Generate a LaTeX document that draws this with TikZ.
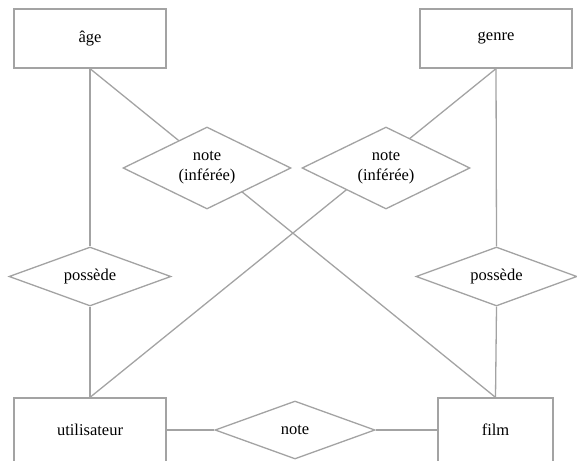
\documentclass[tikz,border=0pt]{standalone}
\usepackage{fontspec}
\setmainfont{Liberation Serif}
\usetikzlibrary{shapes.geometric}
\definecolor{linegray}{RGB}{163,163,163}
\tikzset{
  ent/.style={draw=linegray, line width=1.3pt, fill=white, rectangle, inner sep=0pt},
  rel/.style={draw=linegray, line width=1.3pt, fill=white, diamond, inner sep=0pt, aspect=2},
  conn/.style={draw=linegray, line width=1.3pt},
}
\begin{document}
\begin{tikzpicture}[x=1pt,y=-1pt, font=\fontsize{16.5}{20}\selectfont]
\useasboundingbox (0,0) rectangle (577,460);
\begin{scope}
\clip (0,0) rectangle (577,460);
% entities
\node[ent, minimum width=152pt, minimum height=59pt] (age) at (90,38.5) {âge};
\node[ent, minimum width=152pt, minimum height=59pt] (genre) at (496,38.5) {genre};
\node[ent, minimum width=152pt, minimum height=68pt] (util) at (90,432) {};
\node at (90,430) {utilisateur};
\node[ent, minimum width=115pt, minimum height=68pt] (film) at (495.5,432) {};
\node at (495.5,430) {film};
% crossing connectors (behind the inferred diamonds)
\draw[conn] (age.south) -- (film.north);
\draw[conn] (genre.south) -- (util.north);
% relationships
\node[rel, minimum width=162pt, minimum height=59pt] (pos1) at (90,276.5) {possède};
\node[rel, minimum width=161pt, minimum height=59pt] (pos2) at (496.5,276.5) {possède};
\node[rel, minimum width=168pt, minimum height=82pt, align=center] (inf1) at (207,168) {note\\(inférée)};
\node[rel, minimum width=168pt, minimum height=82pt, align=center] (inf2) at (386,168) {note\\(inférée)};
\node[rel, minimum width=160pt, minimum height=58pt] (note) at (295,430) {note};
% connectors
\draw[conn] (age.south) -- (pos1.north);
\draw[conn] (pos1.south) -- (util.north);
\draw[conn] (genre.south) -- (pos2.north);
\draw[conn] (pos2.south) -- (film.north);
\draw[conn] (util.east |- note.west) -- (note.west);
\draw[conn] (note.east) -- (film.west |- note.east);
\end{scope}
\end{tikzpicture}
\end{document}
